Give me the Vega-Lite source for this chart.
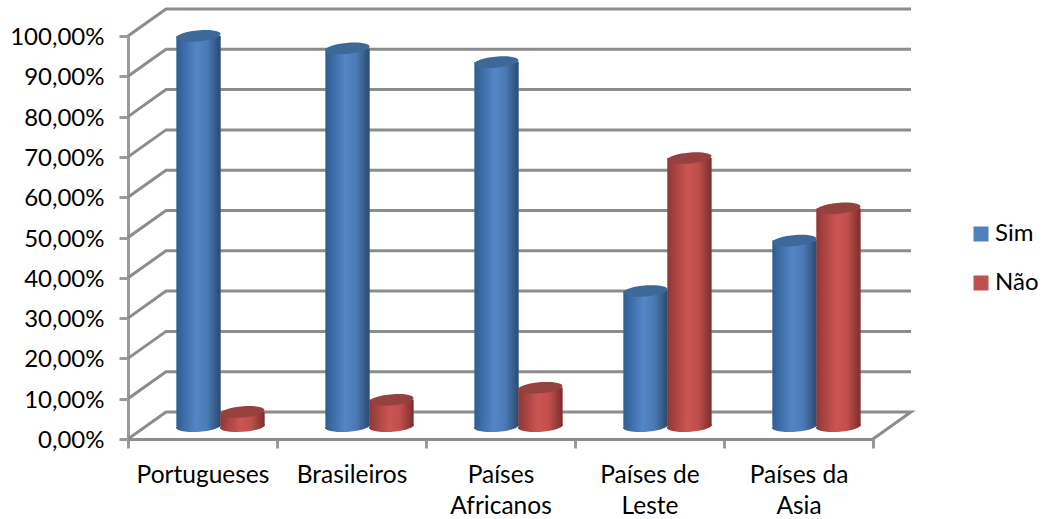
{"$schema":"https://vega.github.io/schema/vega-lite/v6.json","width":783,"height":430,"autosize":{"type":"none"},"padding":{"left":128,"top":9,"right":132,"bottom":80},"background":"white","config":{"font":"Lato","view":{"stroke":null},"text":{"font":"Lato"}},"datasets":{"vals":[{"grupo":"Portugueses","serie":"Sim","valor":96.8},{"grupo":"Portugueses","serie":"Não","valor":3.5},{"grupo":"Brasileiros","serie":"Sim","valor":93.7},{"grupo":"Brasileiros","serie":"Não","valor":6.5},{"grupo":"Países Africanos","serie":"Sim","valor":90.3},{"grupo":"Países Africanos","serie":"Não","valor":9.5},{"grupo":"Países de Leste","serie":"Sim","valor":33.5},{"grupo":"Países de Leste","serie":"Não","valor":66.5},{"grupo":"Países da Asia","serie":"Sim","valor":46},{"grupo":"Países da Asia","serie":"Não","valor":54}],"grid":[{"n":0,"o":1,"x":0,"y":0},{"n":0,"o":2,"x":0.255,"y":6.7},{"n":0,"o":3,"x":5.255,"y":6.7},{"n":0,"o":4,"x":5,"y":0},{"n":10,"o":1,"x":0,"y":10},{"n":10,"o":2,"x":0.255,"y":16.7},{"n":10,"o":3,"x":5.255,"y":16.7},{"n":20,"o":1,"x":0,"y":20},{"n":20,"o":2,"x":0.255,"y":26.7},{"n":20,"o":3,"x":5.255,"y":26.7},{"n":30,"o":1,"x":0,"y":30},{"n":30,"o":2,"x":0.255,"y":36.7},{"n":30,"o":3,"x":5.255,"y":36.7},{"n":40,"o":1,"x":0,"y":40},{"n":40,"o":2,"x":0.255,"y":46.7},{"n":40,"o":3,"x":5.255,"y":46.7},{"n":50,"o":1,"x":0,"y":50},{"n":50,"o":2,"x":0.255,"y":56.7},{"n":50,"o":3,"x":5.255,"y":56.7},{"n":60,"o":1,"x":0,"y":60},{"n":60,"o":2,"x":0.255,"y":66.7},{"n":60,"o":3,"x":5.255,"y":66.7},{"n":70,"o":1,"x":0,"y":70},{"n":70,"o":2,"x":0.255,"y":76.7},{"n":70,"o":3,"x":5.255,"y":76.7},{"n":80,"o":1,"x":0,"y":80},{"n":80,"o":2,"x":0.255,"y":86.7},{"n":80,"o":3,"x":5.255,"y":86.7},{"n":90,"o":1,"x":0,"y":90},{"n":90,"o":2,"x":0.255,"y":96.7},{"n":90,"o":3,"x":5.255,"y":96.7},{"n":100,"o":1,"x":0,"y":100},{"n":100,"o":2,"x":0.255,"y":106.7},{"n":100,"o":3,"x":5.255,"y":106.7}]},"resolve":{"scale":{"x":"independent","y":"independent","xOffset":"independent"},"axis":{"x":"independent","y":"independent"}},"layer":[{"data":{"name":"grid"},"mark":{"type":"line","stroke":"#8c8c8c","strokeWidth":3,"interpolate":"linear"},"encoding":{"x":{"field":"x","type":"quantitative","axis":null,"scale":{"domain":[0,5.255],"range":[0,783],"nice":false,"zero":false}},"y":{"field":"y","type":"quantitative","scale":{"domain":[0,100],"range":[430,27],"nice":false},"axis":{"values":[0,10,20,30,40,50,60,70,80,90,100],"title":null,"grid":false,"tickSize":9,"tickWidth":3,"tickColor":"#9a9a9a","domainColor":"#9a9a9a","domainWidth":3,"labelFontSize":24,"labelColor":"#000000","labelFont":"Lato","labelPadding":15,"labelOffset":1.5,"labelExpr":"replace(format(datum.value,'.2f'),'.',',')+'%'"}},"detail":{"field":"n"},"order":{"field":"o"}}},{"data":{"name":"vals"},"mark":{"type":"bar","opacity":0},"encoding":{"x":{"field":"grupo","type":"nominal","sort":null,"scale":{"domain":["Portugueses","Brasileiros","Países Africanos","Países de Leste","Países da Asia"],"range":[0,745],"paddingInner":0,"paddingOuter":0},"axis":{"title":null,"grid":false,"labelAngle":0,"tickBand":"extent","tickSize":9,"tickWidth":3,"tickColor":"#9a9a9a","domainColor":"#8c8c8c","domainWidth":3,"labelFontSize":24.5,"labelColor":"#000000","labelFont":"Lato","labelPadding":15,"labelLineHeight":31,"labelExpr":"datum.label=='Países Africanos'?['Países','Africanos']:datum.label=='Países de Leste'?['Países de','Leste']:datum.label=='Países da Asia'?['Países da','Asia']:datum.label"}},"y":{"field":"valor","type":"quantitative","axis":null,"scale":{"domain":[0,100],"range":[417,14],"nice":false}}}},{"data":{"name":"vals"},"mark":{"type":"bar"},"encoding":{"x":{"field":"grupo","type":"nominal","sort":null,"axis":null,"scale":{"domain":["Portugueses","Brasileiros","Países Africanos","Países de Leste","Países da Asia"],"range":[18,763],"paddingInner":0.41,"paddingOuter":0.205}},"xOffset":{"field":"serie","type":"nominal","sort":null,"scale":{"domain":["Sim","Não"],"paddingInner":0,"paddingOuter":0}},"y":{"field":"valor","type":"quantitative","axis":null,"scale":{"domain":[0,100],"range":[417,14],"nice":false}},"color":{"field":"serie","type":"nominal","sort":null,"scale":{"domain":["Sim","Não"],"range":["#4f81bd","#c0504d"]},"legend":{"title":null,"orient":"none","legendX":841,"legendY":213,"symbolType":"square","symbolSize":225,"symbolStrokeWidth":0,"labelFontSize":24,"labelFont":"Lato","labelColor":"#000000","labelOffset":2,"rowPadding":25}}}},{"data":{"name":"vals"},"transform":[{"filter":"datum.serie=='Sim'"}],"mark":{"type":"bar","fill":{"x1":0,"y1":0,"x2":1,"y2":0,"gradient":"linear","stops":[{"offset":0,"color":"#2f5d92"},{"offset":0.45,"color":"#5486c6"},{"offset":0.7,"color":"#4b7ab4"},{"offset":1,"color":"#2a4a70"}]}},"encoding":{"x":{"field":"grupo","type":"nominal","sort":null,"axis":null,"scale":{"domain":["Portugueses","Brasileiros","Países Africanos","Países de Leste","Países da Asia"],"range":[18,763],"paddingInner":0.41,"paddingOuter":0.205}},"xOffset":{"field":"serie","type":"nominal","sort":null,"scale":{"domain":["Sim","Não"],"paddingInner":0,"paddingOuter":0}},"y":{"field":"valor","type":"quantitative","axis":null,"scale":{"domain":[0,100],"range":[417,14],"nice":false}}}},{"data":{"name":"vals"},"transform":[{"filter":"datum.serie=='Sim'"}],"mark":{"type":"point","filled":true,"opacity":1,"size":1936,"shape":"M-1,0.06 A1,0.26 -4 1 1 1,-0.06 L1,0 A1,0.26 -4 1 1 -1,0 Z","fill":{"x1":0,"y1":0,"x2":1,"y2":0,"gradient":"linear","stops":[{"offset":0,"color":"#2f5d92"},{"offset":0.45,"color":"#5486c6"},{"offset":0.7,"color":"#4b7ab4"},{"offset":1,"color":"#2a4a70"}]}},"encoding":{"x":{"field":"grupo","type":"nominal","sort":null,"axis":null,"scale":{"domain":["Portugueses","Brasileiros","Países Africanos","Países de Leste","Países da Asia"],"range":[18,763],"paddingInner":0.41,"paddingOuter":0.205}},"xOffset":{"field":"serie","type":"nominal","sort":null,"scale":{"type":"point","domain":["Sim","Não"],"padding":0.5}},"y":{"datum":0,"type":"quantitative","axis":null,"scale":{"domain":[0,100],"range":[417,14],"nice":false}}}},{"data":{"name":"vals"},"transform":[{"filter":"datum.serie=='Sim'"}],"mark":{"type":"point","filled":true,"opacity":1,"size":1936,"fill":"#3d6897","shape":"M-1,0.07 A1,0.25 -5 1 1 1,-0.07 A1,0.25 -5 1 1 -1,0.07 Z"},"encoding":{"x":{"field":"grupo","type":"nominal","sort":null,"axis":null,"scale":{"domain":["Portugueses","Brasileiros","Países Africanos","Países de Leste","Países da Asia"],"range":[18,763],"paddingInner":0.41,"paddingOuter":0.205}},"xOffset":{"field":"serie","type":"nominal","sort":null,"scale":{"type":"point","domain":["Sim","Não"],"padding":0.5}},"y":{"field":"valor","type":"quantitative","axis":null,"scale":{"domain":[0,100],"range":[417,14],"nice":false}}}},{"data":{"name":"vals"},"transform":[{"filter":"datum.serie=='Não'"}],"mark":{"type":"bar","fill":{"x1":0,"y1":0,"x2":1,"y2":0,"gradient":"linear","stops":[{"offset":0,"color":"#8f3836"},{"offset":0.45,"color":"#cb5552"},{"offset":0.7,"color":"#c04f4c"},{"offset":1,"color":"#7a2f2d"}]}},"encoding":{"x":{"field":"grupo","type":"nominal","sort":null,"axis":null,"scale":{"domain":["Portugueses","Brasileiros","Países Africanos","Países de Leste","Países da Asia"],"range":[18,763],"paddingInner":0.41,"paddingOuter":0.205}},"xOffset":{"field":"serie","type":"nominal","sort":null,"scale":{"domain":["Sim","Não"],"paddingInner":0,"paddingOuter":0}},"y":{"field":"valor","type":"quantitative","axis":null,"scale":{"domain":[0,100],"range":[417,14],"nice":false}}}},{"data":{"name":"vals"},"transform":[{"filter":"datum.serie=='Não'"}],"mark":{"type":"point","filled":true,"opacity":1,"size":1936,"shape":"M-1,0.06 A1,0.26 -4 1 1 1,-0.06 L1,0 A1,0.26 -4 1 1 -1,0 Z","fill":{"x1":0,"y1":0,"x2":1,"y2":0,"gradient":"linear","stops":[{"offset":0,"color":"#8f3836"},{"offset":0.45,"color":"#cb5552"},{"offset":0.7,"color":"#c04f4c"},{"offset":1,"color":"#7a2f2d"}]}},"encoding":{"x":{"field":"grupo","type":"nominal","sort":null,"axis":null,"scale":{"domain":["Portugueses","Brasileiros","Países Africanos","Países de Leste","Países da Asia"],"range":[18,763],"paddingInner":0.41,"paddingOuter":0.205}},"xOffset":{"field":"serie","type":"nominal","sort":null,"scale":{"type":"point","domain":["Sim","Não"],"padding":0.5}},"y":{"datum":0,"type":"quantitative","axis":null,"scale":{"domain":[0,100],"range":[417,14],"nice":false}}}},{"data":{"name":"vals"},"transform":[{"filter":"datum.serie=='Não'"}],"mark":{"type":"point","filled":true,"opacity":1,"size":1936,"fill":"#954140","shape":"M-1,0.07 A1,0.25 -5 1 1 1,-0.07 A1,0.25 -5 1 1 -1,0.07 Z"},"encoding":{"x":{"field":"grupo","type":"nominal","sort":null,"axis":null,"scale":{"domain":["Portugueses","Brasileiros","Países Africanos","Países de Leste","Países da Asia"],"range":[18,763],"paddingInner":0.41,"paddingOuter":0.205}},"xOffset":{"field":"serie","type":"nominal","sort":null,"scale":{"type":"point","domain":["Sim","Não"],"padding":0.5}},"y":{"field":"valor","type":"quantitative","axis":null,"scale":{"domain":[0,100],"range":[417,14],"nice":false}}}}]}
